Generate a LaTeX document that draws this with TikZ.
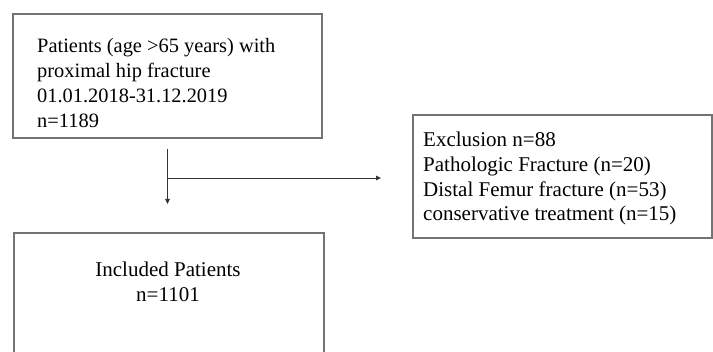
\documentclass[tikz,border=0pt]{standalone}
\usepackage{fontspec}
\setmainfont{Liberation Serif}
\usetikzlibrary{arrows.meta}
\begin{document}
\begin{tikzpicture}[x=1pt,y=1pt,
  box/.style={draw=black!55,line width=1.2pt,rectangle,inner sep=0pt},
  txt/.style={inner sep=0pt,font=\fontsize{21}{25}\selectfont,text=black},
  conn/.style={draw=black!80,line width=0.9pt},
  arr/.style={conn,-{Triangle[length=5pt,width=4.5pt]}}]
\useasboundingbox (0,0) rectangle (713,-352);
\fill[white] (0,0) rectangle (713,-352);
% boxes
\node[box,minimum width=309pt,minimum height=124pt] (pat) at (167.5,-76) {};
\node[box,minimum width=299pt,minimum height=123pt] (exc) at (562.5,-176.5) {};
\node[box,minimum width=310pt,minimum height=140pt] (inc) at (169,-303) {};
% texts (base anchor = baseline of the last line)
\node[txt,align=left,anchor=base west,font=\fontsize{20.4}{25}\selectfont] (pattxt) at (37,-128)
  {Patients (age >65 years) with\\proximal hip fracture\\01.01.2018-31.12.2019\\n=1189};
\node[txt,align=left,anchor=base west,font=\fontsize{21}{24.7}\selectfont] (exctxt) at (423,-221)
  {Exclusion n=88\\Pathologic Fracture (n=20)\\Distal Femur fracture (n=53)\\conservative treatment (n=15)};
\node[txt,align=center,anchor=base] (inctxt) at (168,-302)
  {Included Patients\\n=1101};
% connectors
\coordinate (vstart) at (167.5,-149);
\coordinate (split) at (167.5,-178);
\coordinate (vend) at (167.5,-204);
\coordinate (hend) at (381,-178);
\draw[arr] (vstart) -- (vend);
\draw[arr] (split) -- (hend);
\end{tikzpicture}
\end{document}
